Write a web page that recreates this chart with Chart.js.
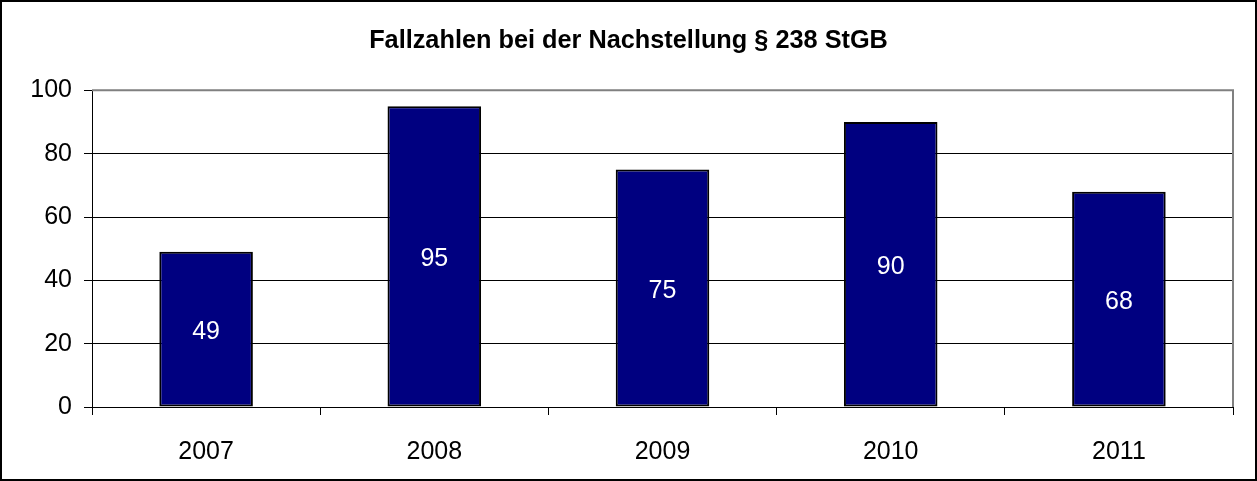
<!DOCTYPE html>
<html>
<head>
<meta charset="utf-8">
<script src="https://cdn.jsdelivr.net/npm/chart.js@4/dist/chart.umd.min.js"></script>
<style>
  body { margin: 0; background: #fff; }
  canvas { display: block; }
</style>
</head>
<body>
<canvas id="myChart" width="1257" height="481"></canvas>
<script>
const years = ['2007', '2008', '2009', '2010', '2011'];
const cases = [49, 95, 75, 90, 68];
const yTicks = [0, 20, 40, 60, 80, 100];

const FONT = '"Liberation Sans", Arial, sans-serif';

// Rahmen ums Bild + grauer Rand der Zeichenfläche oben/rechts
const frame = {
  id: 'frame',
  beforeDraw(chart) {
    const ctx = chart.ctx;
    ctx.save();
    ctx.fillStyle = '#fff';
    ctx.fillRect(0, 0, chart.width, chart.height);
    ctx.restore();
  },
  afterDraw(chart) {
    const ctx = chart.ctx;
    const a = chart.chartArea;
    ctx.save();
    ctx.strokeStyle = '#808080';
    ctx.lineWidth = 2;
    ctx.beginPath();
    ctx.moveTo(a.left, a.top);
    ctx.lineTo(a.right, a.top);
    ctx.lineTo(a.right, a.bottom);
    ctx.stroke();
    ctx.strokeStyle = '#000';
    ctx.lineWidth = 2;
    ctx.strokeRect(1, 1, chart.width - 2, chart.height - 2);
    ctx.restore();
  }
};

// Werte mittig in die Balken schreiben
const barLabels = {
  id: 'barLabels',
  afterDatasetsDraw(chart) {
    const ctx = chart.ctx;
    const meta = chart.getDatasetMeta(0);
    ctx.save();
    ctx.fillStyle = '#fff';
    ctx.font = '25px ' + FONT;
    ctx.textAlign = 'center';
    ctx.textBaseline = 'middle';
    meta.data.forEach((bar, i) => {
      ctx.fillText(String(cases[i]), bar.x, (bar.y + bar.base) / 2 + 3);
    });
    ctx.restore();
  }
};

const myChart = new Chart(document.getElementById('myChart'), {
  type: 'bar',
  data: {
    labels: years,
    datasets: [{
      data: cases,
      backgroundColor: '#000080',
      borderColor: '#000',
      borderWidth: 2,
      borderSkipped: false,
      categoryPercentage: 1,
      barPercentage: 0.41
    }]
  },
  options: {
    responsive: false,
    animation: false,
    layout: { padding: 0 },
    plugins: {
      legend: { display: false },
      tooltip: { enabled: false },
      title: {
        display: true,
        text: 'Fallzahlen bei der Nachstellung § 238 StGB',
        color: '#000',
        font: { family: FONT, size: 25.3, weight: 'bold', lineHeight: 1.2 },
        padding: { top: 26, bottom: 34 }
      }
    },
    scales: {
      x: {
        grid: {
          offset: true,
          drawOnChartArea: false,
          drawTicks: true,
          tickLength: 8,
          color: '#000'
        },
        border: { display: true, color: '#000', width: 1 },
        ticks: {
          color: '#000',
          font: { family: FONT, size: 25 },
          padding: 22
        },
        afterFit(scale) { scale.height = 74; }
      },
      y: {
        min: 0,
        max: 100,
        afterBuildTicks(scale) { scale.ticks = yTicks.map(v => ({ value: v })); },
        grid: {
          color: '#000',
          lineWidth: 1,
          drawTicks: true,
          tickLength: 8
        },
        border: { display: true, color: '#000', width: 1 },
        ticks: {
          color: '#000',
          font: { family: FONT, size: 25 },
          padding: 12
        },
        afterFit(scale) { scale.width = 92; }
      },
      // leerer Rand rechts, damit der Titel über die ganze Breite zentriert bleibt
      rightGap: {
        position: 'right',
        grid: { display: false, drawTicks: false },
        border: { display: false },
        ticks: { display: false },
        afterFit(scale) { scale.width = 24; }
      }
    }
  },
  plugins: [frame, barLabels]
});
</script>
</body>
</html>
